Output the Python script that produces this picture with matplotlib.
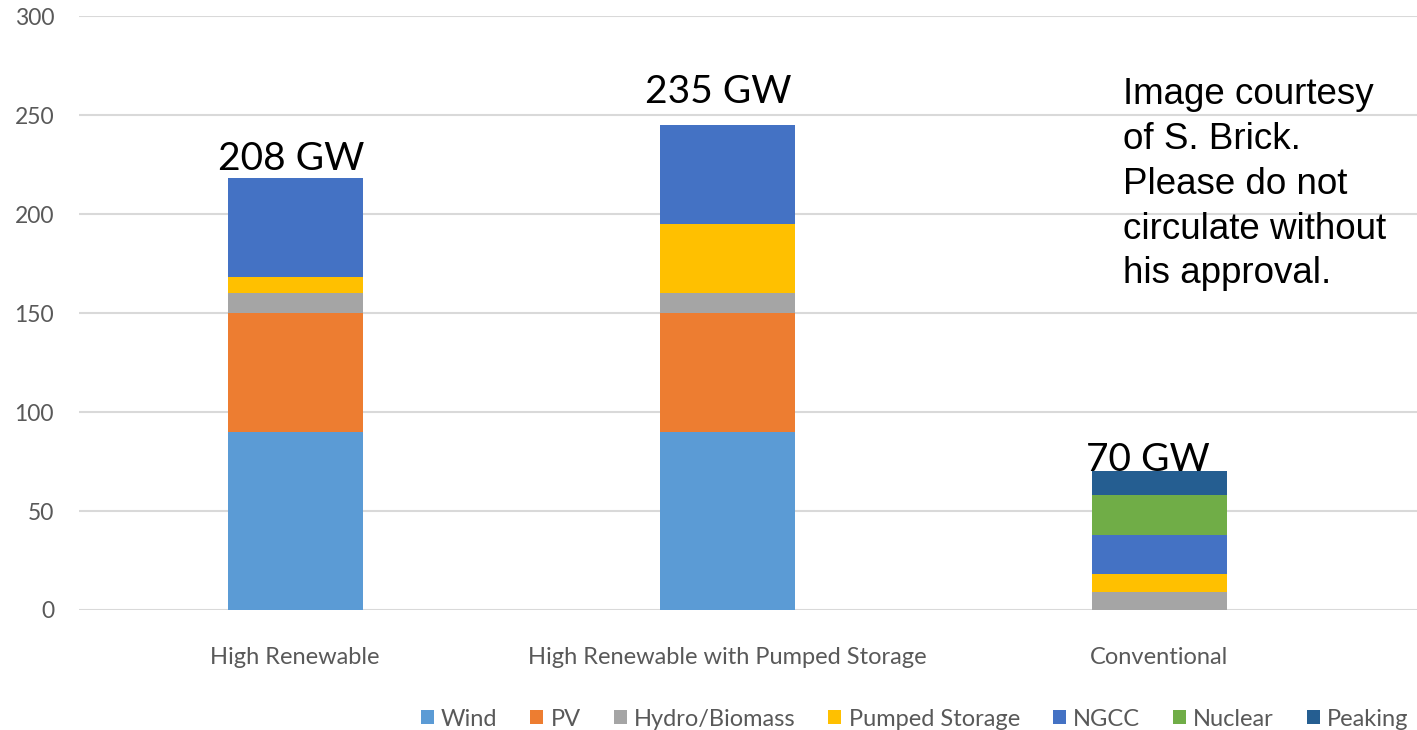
import numpy as np
import matplotlib
matplotlib.use("Agg")
import matplotlib.pyplot as plt
from matplotlib.patches import Patch

# capacity by scenario, GW
scenarios = ["High Renewable", "High Renewable with Pumped Storage", "Conventional"]
sources = ["Wind", "PV", "Hydro/Biomass", "Pumped Storage", "NGCC", "Nuclear", "Peaking"]
wind = [90, 90, 0]
pv = [60, 60, 0]
hydro = [10, 10, 9]
pumped = [8, 35, 9]
ngcc = [50, 50, 20]
nuclear = [0, 0, 20]
peaking = [0, 0, 12]
total_labels = ["208 GW", "235 GW", "70 GW"]

colors = ["#5B9BD5", "#ED7D31", "#A5A5A5", "#FFC000", "#4472C4", "#70AD47", "#255E91"]

plt.rcParams["font.family"] = ["Lato", "DejaVu Sans"]

fig = plt.figure(figsize=(14.17, 7.30), dpi=100)
ax = fig.add_axes([0.0558, 0.1644, 0.9442, 0.8136])

x = np.arange(len(scenarios))
width = 0.3125
bottom = np.zeros(len(scenarios))
for name, vals, col in zip(sources, [wind, pv, hydro, pumped, ngcc, nuclear, peaking], colors):
    vals = np.array(vals, dtype=float)
    ax.bar(x, vals, width, bottom=bottom, color=col, label=name, zorder=3)
    bottom += vals

# total labels sit a little off each stack
label_dx = [-0.008, -0.02, -0.027]
label_dy = [4, 11, 0]
for i, txt in enumerate(total_labels):
    ax.text(x[i] + label_dx[i], bottom[i] + label_dy[i], txt, ha="center", va="baseline",
            fontsize=28, color="black", zorder=4)

ax.set_xlim(-0.5, 2.597)
ax.set_ylim(0, 300)
ax.set_yticks(np.arange(0, 301, 50))
ax.yaxis.grid(True, color="#D9D9D9", linewidth=1.5, zorder=0)
ax.set_axisbelow(True)
for s in ax.spines.values():
    s.set_visible(False)
ax.tick_params(axis="both", length=0, labelcolor="#595959")
ax.tick_params(axis="y", pad=18, labelsize=16.5)
ax.tick_params(axis="x", pad=27, labelsize=17)
ax.set_xticks(x)
ax.set_xticklabels(scenarios)

fig.text(0.7925, 0.894, "Image courtesy\nof S. Brick.\nPlease do not\ncirculate without\nhis approval.",
         family="Liberation Sans", fontsize=26.5, va="top", ha="left", linespacing=1.36)

handles = [Patch(facecolor=c, edgecolor="none") for c in colors]
fig.legend(handles, sources, loc="center right", bbox_to_anchor=(1.009, 0.015), ncol=7,
           frameon=False, fontsize=17, labelcolor="#595959", handlelength=0.55, handleheight=0.55,
           handletextpad=0.3, columnspacing=1.4)

fig.savefig("out.png", dpi=100, facecolor="white")
